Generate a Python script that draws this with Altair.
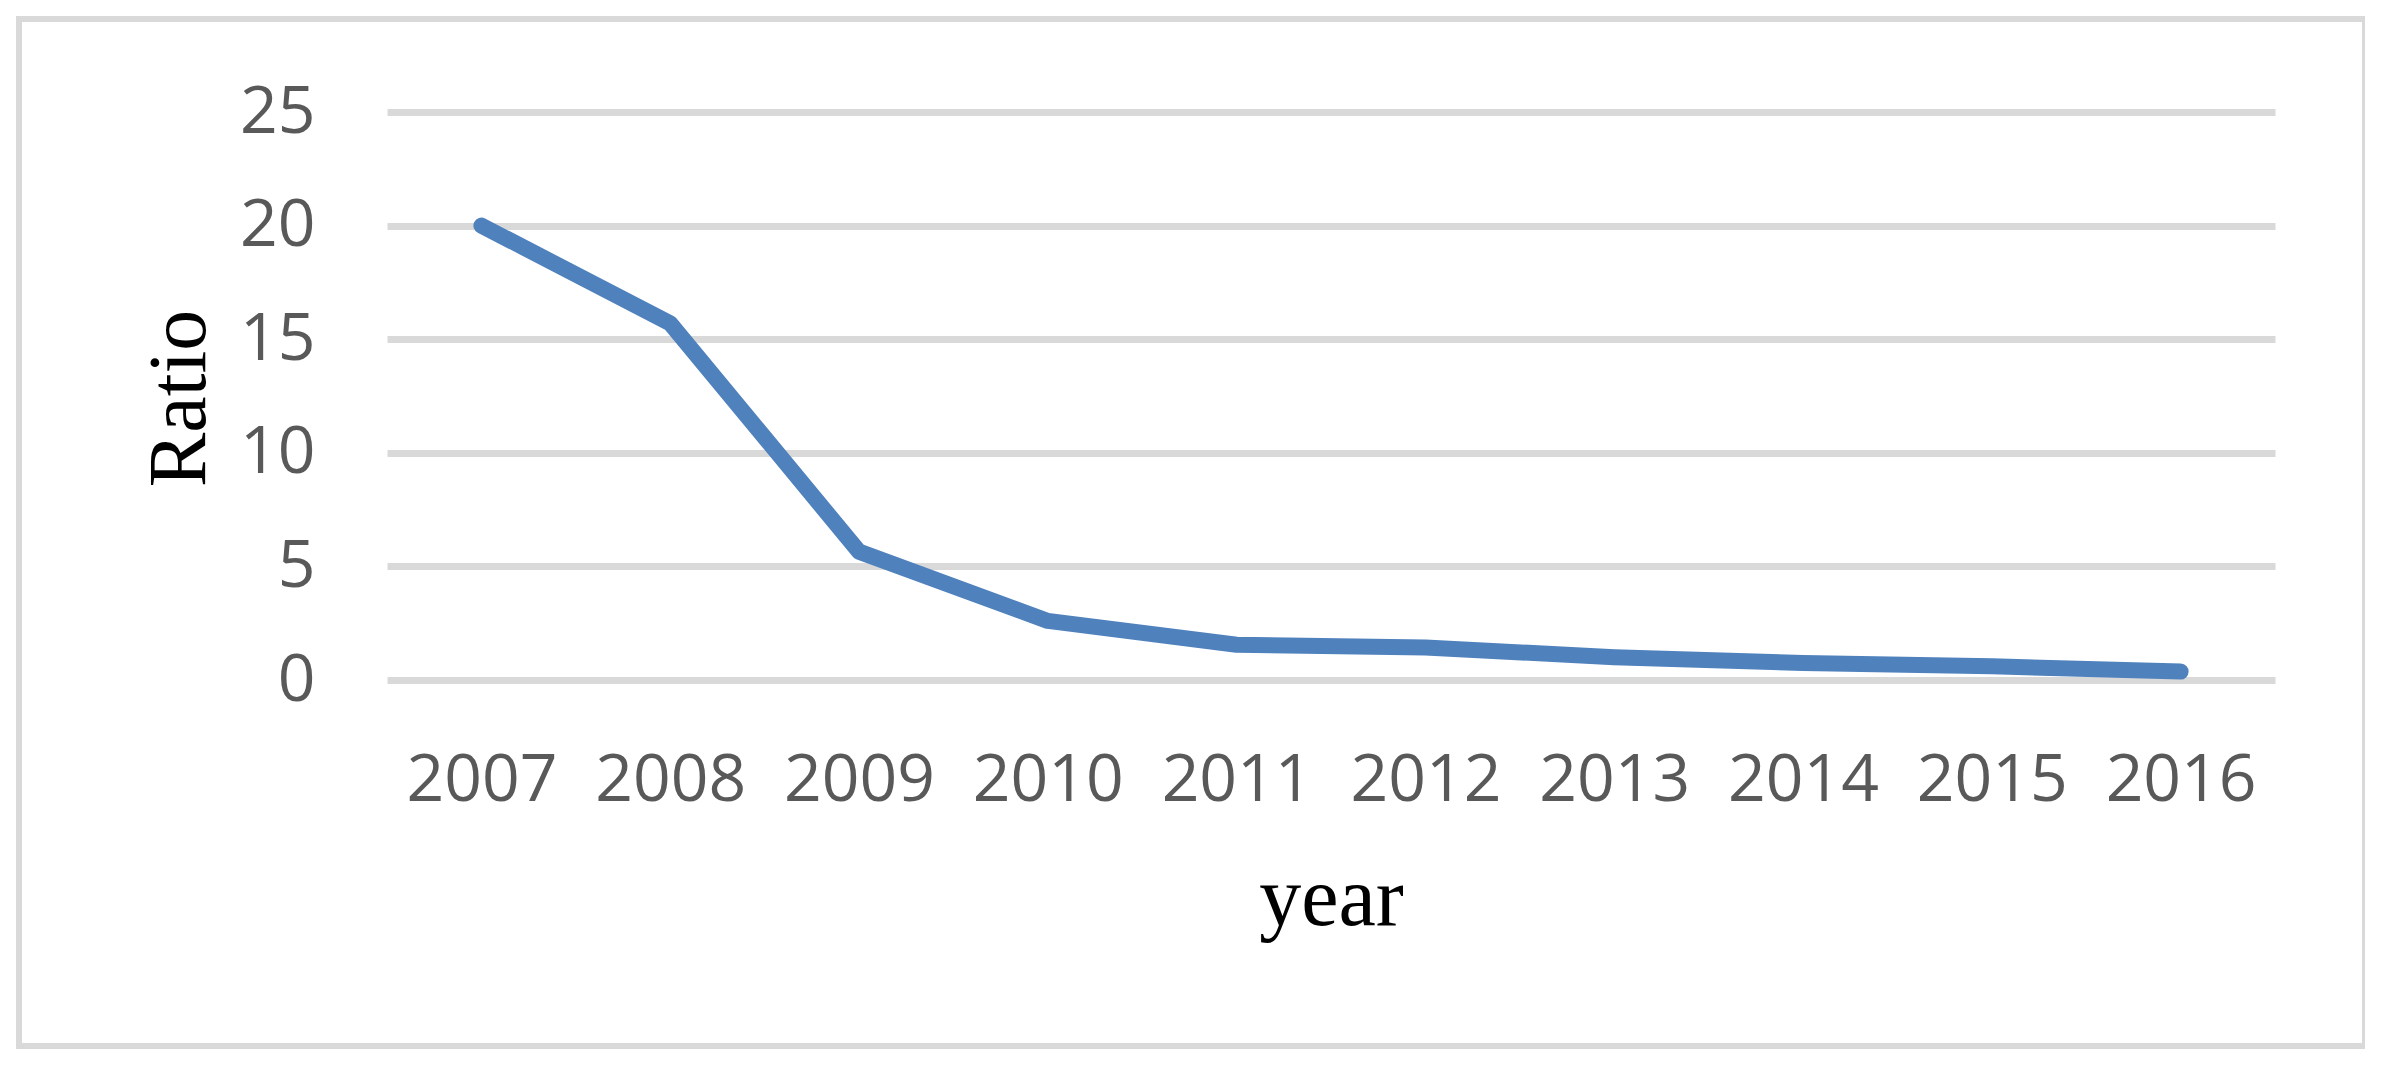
import altair as alt
import pandas as pd

years = ["2007", "2008", "2009", "2010", "2011", "2012", "2013", "2014", "2015", "2016"]
ratio = [20.0, 15.7, 5.65, 2.6, 1.55, 1.43, 1.0, 0.75, 0.6, 0.37]
y_ticks = [0, 5, 10, 15, 20, 25]

df = pd.DataFrame({"year": years, "ratio": ratio})
frame_df = pd.DataFrame({"k": [0]})

PLOT_L, PLOT_T, W, H = 387, 112, 1888, 568

line = alt.Chart(df).mark_line(
    color="#4f81bd", strokeWidth=16, strokeCap="round", strokeJoin="round"
).encode(
    x=alt.X("year:O", sort=years,
            scale=alt.Scale(type="point", padding=0.5),
            axis=alt.Axis(title="year", labelAngle=0, labelFont="Open Sans",
                          labelFontSize=66, labelColor="#595959", labelPadding=68,
                          ticks=False, domain=False, grid=False,
                          titleFont="Liberation Serif", titleFontSize=84,
                          titleFontWeight="normal", titleColor="#000000",
                          titleX=W / 2, titleY=924 - (PLOT_T + H), titleBaseline="alphabetic",
                          titleAlign="center")),
    y=alt.Y("ratio:Q", scale=alt.Scale(domain=[0, 25], nice=False),
            axis=alt.Axis(title="Ratio", values=y_ticks, labelFont="Open Sans",
                          labelFontSize=66, labelColor="#595959", labelPadding=72,
                          ticks=False, domain=False, grid=True,
                          gridColor="#d9d9d9", gridWidth=7,
                          titleFont="Liberation Serif", titleFontSize=82,
                          titleFontWeight="normal", titleColor="#000000",
                          titleAngle=270, titleX=179 - PLOT_L, titleY=H / 2 + 2,
                          titleBaseline="middle", titleAlign="center")),
)

frame = alt.Chart(frame_df).mark_rect(
    fillOpacity=0, stroke="#d9d9d9", strokeWidth=6
).encode(
    x=alt.value(19 - PLOT_L), x2=alt.value(2365 - PLOT_L),
    y=alt.value(19 - PLOT_T), y2=alt.value(1046 - PLOT_T),
)

chart = alt.layer(frame, line).properties(
    width=W, height=H,
    autosize=alt.AutoSizeParams(type="none"),
    padding={"left": PLOT_L - 8, "top": PLOT_T - 8, "right": 2365 - PLOT_L - W, "bottom": 1052 - (PLOT_T - 8) - H},
    background="white",
).configure_view(stroke=None)

chart.save("out.html", embed_options={"renderer": "svg", "actions": False})
